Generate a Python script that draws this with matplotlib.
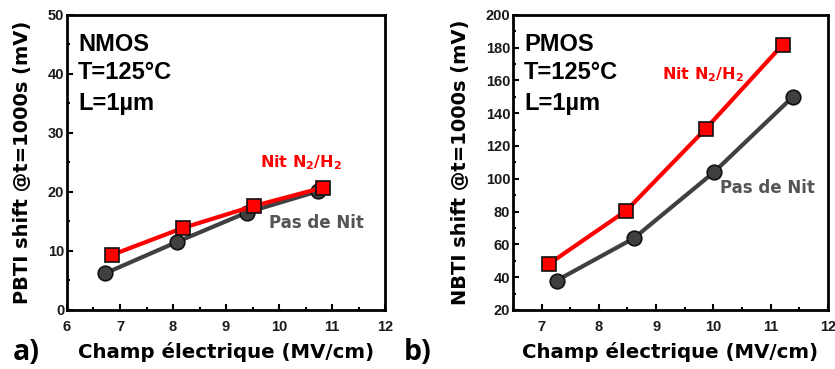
import matplotlib
matplotlib.use("Agg")
import matplotlib.pyplot as plt
from matplotlib import font_manager
from matplotlib.ticker import MultipleLocator

# Arial-like bold for the small texts
bold_file = [f for f in font_manager.findSystemFonts()
             if f.endswith('LiberationSans-Bold.ttf')][0]
font_manager.fontManager.addfont(bold_file)
ARIAL_B = font_manager.FontProperties(fname=bold_file)

plt.rcParams['font.family'] = ['DejaVu Sans']
plt.rcParams['mathtext.fontset'] = 'custom'
plt.rcParams['mathtext.rm'] = 'DejaVu Sans:bold'
plt.rcParams['mathtext.it'] = 'DejaVu Sans:bold'
plt.rcParams['mathtext.bf'] = 'DejaVu Sans:bold'

# (a) NMOS - PBTI
nmos_nit_x = [6.84, 8.19, 9.52, 10.82]
nmos_nit_y = [9.3, 13.9, 17.6, 20.7]
nmos_ref_x = [6.72, 8.07, 9.39, 10.73]
nmos_ref_y = [6.2, 11.5, 16.5, 20.1]

# (b) PMOS - NBTI
pmos_nit_x = [7.12, 8.48, 9.87, 11.21]
pmos_nit_y = [47.9, 80.6, 130.6, 181.7]
pmos_ref_x = [7.26, 8.61, 10.01, 11.39]
pmos_ref_y = [37.9, 63.7, 104.0, 150.0]

RED = '#ff0000'
GREY = '#404040'

fig = plt.figure(figsize=(8.35, 3.69), dpi=100)
ax1 = fig.add_axes([0.0802, 0.160, 0.381, 0.800])
ax2 = fig.add_axes([0.6144, 0.160, 0.377, 0.800])


def arial(size):
    fp = ARIAL_B.copy()
    fp.set_size(size)
    return fp


def draw(ax, xr, yr, xn, yn, xlim, ylim, major_y, minor_y, ylabel, device,
         nit_pos, ref_pos):
    ax.plot(xr, yr, '-o', color=GREY, lw=3, ms=10.5, mfc=GREY, mec='#111111',
            mew=1.2, zorder=3)
    ax.plot(xn, yn, '-s', color=RED, lw=3, ms=9.5, mfc=RED, mec='#111111',
            mew=1.2, zorder=4)
    ax.set_xlim(*xlim)
    ax.set_ylim(*ylim)
    ax.xaxis.set_major_locator(MultipleLocator(1))
    ax.xaxis.set_minor_locator(MultipleLocator(0.5))
    ax.yaxis.set_major_locator(MultipleLocator(major_y))
    ax.yaxis.set_minor_locator(MultipleLocator(minor_y))
    ax.tick_params(which='both', direction='in', width=1.5,
                   labelcolor='#1a1a1a')
    ax.tick_params(which='major', length=4)
    ax.tick_params(which='minor', length=2.5)
    ax.tick_params(axis='y', pad=2)
    ax.tick_params(axis='x', pad=7)
    for lab in ax.get_xticklabels() + ax.get_yticklabels():
        lab.set_fontproperties(arial(10.5))
    for sp in ax.spines.values():
        sp.set_linewidth(2)
    ax.set_xlabel('Champ électrique (MV/cm)', fontsize=14.2, fontweight='bold',
                  labelpad=6)
    ax.set_ylabel(ylabel, fontsize=14, fontweight='bold', labelpad=11)
    for txt, yf in [(device, 0.898), ('T=125°C', 0.805), ('L=1µm', 0.698)]:
        ax.text(0.035, yf, txt, transform=ax.transAxes, fontproperties=arial(17),
                va='center', ha='left')
    ax.text(nit_pos[0], nit_pos[1], 'Nit N$_2$/H$_2$', color=RED, fontsize=11.5,
            fontweight='bold', ha='left', va='baseline')
    ax.text(ref_pos[0], ref_pos[1], 'Pas de Nit', color='#555555', fontsize=12,
            fontweight='bold', ha='left', va='baseline')


draw(ax1, nmos_ref_x, nmos_ref_y, nmos_nit_x, nmos_nit_y, (6, 12), (0, 50),
     10, 5, 'PBTI shift @t=1000s (mV)', 'NMOS', (9.64, 24.1), (9.81, 13.9))
draw(ax2, pmos_ref_x, pmos_ref_y, pmos_nit_x, pmos_nit_y, (6.5, 12), (20, 200),
     20, 10, 'NBTI shift @t=1000s (mV)', 'PMOS', (9.10, 160.7), (10.12, 91.2))

fig.text(0.015, 0.025, 'a)', fontsize=20.5, fontweight='bold',
         family=['Open Sans', 'DejaVu Sans'])
fig.text(0.483, 0.025, 'b)', fontsize=20.5, fontweight='bold',
         family=['Open Sans', 'DejaVu Sans'])

fig.savefig('out.png', dpi=100)
